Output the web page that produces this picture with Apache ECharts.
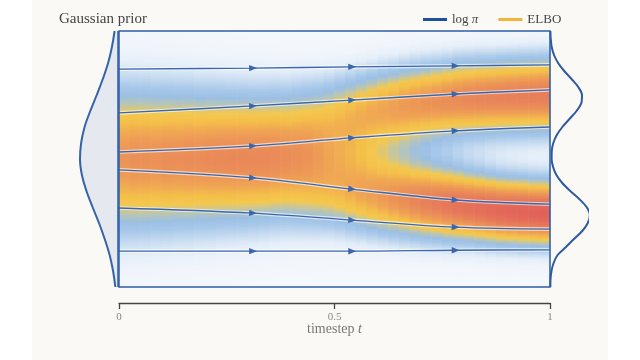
<!DOCTYPE html>
<html><head><meta charset="utf-8">
<script src="https://cdn.jsdelivr.net/npm/echarts@6/dist/echarts.min.js"></script>
<style>
html,body{margin:0;padding:0;}
body{background:linear-gradient(to right,#ffffff 0,#ffffff 32px,#faf9f6 32px,#faf9f6 608px,#ffffff 608px);}
#c{width:640px;height:360px;}
</style></head><body><div id="c"></div>
<script>
// ---- data ----
const xTicks = [0, 0.5, 1];
// heatmap columns (timestep centres) and the two density bands read at each column
const heatT = [0.0125,0.0375,0.0625,0.0875,0.1125,0.1375,0.1625,0.1875,0.2125,0.2375,0.2625,0.2875,0.3125,0.3375,0.3625,0.3875,0.4125,0.4375,0.4625,0.4875,0.5125,0.5375,0.5625,0.5875,0.6125,0.6375,0.6625,0.6875,0.7125,0.7375,0.7625,0.7875,0.8125,0.8375,0.8625,0.8875,0.9125,0.9375,0.9625,0.9875];
const upperMean = [0.05,0.08,0.11,0.14,0.18,0.22,0.25,0.29,0.34,0.41,0.47,0.53,0.59,0.67,0.76,0.83,0.92,1.0,1.09,1.18,1.26,1.33,1.41,1.49,1.56,1.61,1.67,1.72,1.77,1.81,1.85,1.89,1.91,1.93,1.94,1.96,1.97,1.98,1.99,2.0];
const lowerMean = [-0.05,-0.08,-0.11,-0.14,-0.17,-0.2,-0.23,-0.27,-0.31,-0.36,-0.42,-0.47,-0.53,-0.57,-0.62,-0.67,-0.72,-0.77,-0.83,-0.88,-0.93,-0.99,-1.04,-1.1,-1.15,-1.2,-1.24,-1.29,-1.33,-1.37,-1.41,-1.45,-1.49,-1.53,-1.57,-1.61,-1.63,-1.65,-1.67,-1.68];
const upperSpread = [1.68,1.66,1.65,1.63,1.61,1.59,1.57,1.54,1.52,1.48,1.45,1.42,1.38,1.34,1.29,1.24,1.2,1.15,1.1,1.06,1.03,1.01,0.99,0.97,0.96,0.95,0.94,0.93,0.92,0.91,0.9,0.9,0.89,0.89,0.88,0.88,0.88,0.88,0.88,0.88];
const lowerSpread = [1.68,1.66,1.65,1.63,1.61,1.59,1.57,1.54,1.52,1.48,1.45,1.42,1.38,1.34,1.29,1.24,1.2,1.15,1.1,1.05,1.02,1.0,0.97,0.95,0.93,0.91,0.9,0.88,0.87,0.85,0.84,0.82,0.8,0.79,0.78,0.77,0.76,0.76,0.75,0.75];
const upperPeak = [0.5,0.51,0.51,0.51,0.52,0.52,0.53,0.53,0.54,0.55,0.56,0.57,0.58,0.59,0.61,0.62,0.64,0.67,0.69,0.72,0.76,0.8,0.84,0.87,0.9,0.93,0.96,0.98,1.0,1.02,1.04,1.06,1.08,1.09,1.1,1.11,1.12,1.13,1.13,1.14];
const lowerPeak = [0.5,0.51,0.51,0.51,0.52,0.52,0.53,0.53,0.54,0.55,0.56,0.57,0.58,0.6,0.61,0.63,0.66,0.69,0.72,0.75,0.79,0.83,0.88,0.92,0.96,1.0,1.04,1.08,1.12,1.15,1.18,1.21,1.23,1.25,1.27,1.29,1.31,1.32,1.33,1.34];
// flow lines
const flowT = [0, 0.31, 0.54, 0.78, 1];
const flow1 = [2.81, 2.84, 2.88, 2.91, 2.94];
const flow2 = [1.44, 1.66, 1.84, 2.03, 2.16];
const flow3 = [0.22, 0.41, 0.66, 0.88, 1.0];
const flow4 = [-0.34, -0.59, -0.94, -1.28, -1.41];
const flow5 = [-1.53, -1.69, -1.91, -2.13, -2.19];
const flow6 = [-2.88, -2.88, -2.88, -2.85, -2.84];
// prior density (left) and target density (right)
const priorV = [4,3.5,3,2.5,2,1.5,1,0.5,0,-0.5,-1,-1.5,-2,-2.5,-3,-3.5,-4];
const priorDensity = [0.09,0.16,0.26,0.40,0.56,0.73,0.88,0.97,1.0,0.95,0.83,0.67,0.50,0.35,0.22,0.13,0.07];
const targetV = [4,3.75,3.5,3.25,3,2.75,2.5,2.25,2,1.75,1.5,1.25,1,0.75,0.5,0.25,0,-0.25,-0.5,-0.75,-1,-1.25,-1.5,-1.75,-2,-2.25,-2.5,-2.75,-3,-3.25,-3.5,-3.75,-4];
const targetDensity = [0.01,0.02,0.045,0.106,0.214,0.374,0.567,0.743,0.842,0.825,0.699,0.512,0.325,0.178,0.087,0.046,0.043,0.081,0.169,0.322,0.533,0.768,0.962,1.049,0.995,0.85,0.63,0.42,0.2,0.095,0.039,0.014,0.01];
const legendNames = ['log π', 'ELBO'];

// ---- build ----
const FONT = '"Liberation Serif", "DejaVu Serif", serif';
const nRows = 128;
const rowV = Array.from({length:nRows}, (_, j) => (-4 + (j + 0.5) * 8 / nRows).toFixed(4));
const heatData = [];
heatT.forEach((t, i) => {
  rowV.forEach((vs, j) => {
    const v = +vs;
    const a = upperPeak[i] * Math.exp(-Math.pow(v - upperMean[i], 2) / (2 * upperSpread[i] * upperSpread[i]));
    const b = lowerPeak[i] * Math.exp(-Math.pow(v - lowerMean[i], 2) / (2 * lowerSpread[i] * lowerSpread[i]));
    heatData.push([i, j, +(a + b).toFixed(4)]);
  });
});
const flows = [flow1, flow2, flow3, flow4, flow5, flow6];
const arrowData = [];
flows.forEach(f => {
  for (let k = 1; k <= 3; k++) arrowData.push([flowT[k], f[k], flowT[k-1], f[k-1], flowT[k+1], f[k+1]]);
});
const LINE_BLUE = '#3a66ad';
const series = [
  { type:'heatmap', xAxisIndex:1, yAxisIndex:1, data:heatData, emphasis:{disabled:true}, progressive:0, z:1 },
];
flows.forEach(f => {
  const d = flowT.map((t, k) => [t, f[k]]);
  series.push({ type:'line', xAxisIndex:0, yAxisIndex:0, data:d, smooth:0.35, showSymbol:false, silent:true, z:3,
    lineStyle:{color:'rgba(255,255,255,0.6)', width:3.6} });
  series.push({ type:'line', xAxisIndex:0, yAxisIndex:0, data:d, smooth:0.35, showSymbol:false, silent:true, z:4,
    lineStyle:{color:LINE_BLUE, width:1.4} });
});
series.push({
  type:'custom', xAxisIndex:0, yAxisIndex:0, data:arrowData, z:5, silent:true,
  renderItem:(params, api) => {
    const p = api.coord([api.value(0), api.value(1)]);
    const a = api.coord([api.value(2), api.value(3)]);
    const b = api.coord([api.value(4), api.value(5)]);
    const ang = Math.atan2(b[1]-a[1], b[0]-a[0]);
    const c = Math.cos(ang), s = Math.sin(ang);
    const L = 4.5, B = 3.5, W = 3.2;
    return { type:'polygon', shape:{points:[
      [p[0]+c*L, p[1]+s*L],
      [p[0]-c*B - s*W, p[1]-s*B + c*W],
      [p[0]-c*B + s*W, p[1]-s*B - c*W]
    ]}, style:{fill:LINE_BLUE} };
  }
});
// frame
series.push({
  type:'custom', xAxisIndex:0, yAxisIndex:0, data:[[0, -4, 1, 4]], z:6, silent:true,
  renderItem:(params, api) => {
    const p0 = api.coord([api.value(0), api.value(3)]);
    const p1 = api.coord([api.value(2), api.value(1)]);
    return { type:'rect', shape:{x:p0[0], y:p0[1], width:p1[0]-p0[0], height:p1[1]-p0[1]},
      style:{fill:'none', stroke:'#2e5da4', lineWidth:1.5} };
  }
});
// prior fill
const priorData = priorV.map((v, k) => [priorDensity[k], v]);
series.push({
  type:'custom', xAxisIndex:2, yAxisIndex:2, data:priorData, z:2, silent:true,
  renderItem:(params, api) => {
    if (params.dataIndex !== 0) return null;
    const pts = priorData.map(d => api.coord(d));
    const top = api.coord([0, priorV[0]]);
    const bot = api.coord([0, priorV[priorV.length-1]]);
    return { type:'polygon', shape:{points:[top].concat(pts, [bot])}, style:{fill:'#e5e8ee'} };
  }
});
series.push({ type:'line', xAxisIndex:2, yAxisIndex:2, data:priorData, smooth:0.4, showSymbol:false, silent:true, z:3,
  lineStyle:{color:'#3563a8', width:2} });
series.push({ type:'line', xAxisIndex:2, yAxisIndex:2, data:[[0, 4], [0, -4]], showSymbol:false, silent:true, z:3,
  lineStyle:{color:'#2e5da4', width:1.5} });
// target curve
series.push({ type:'line', xAxisIndex:3, yAxisIndex:3, data:targetV.map((v, k) => [targetDensity[k], v]), smooth:0.3,
  showSymbol:false, silent:true, z:3, clip:false, lineStyle:{color:'#2f5a9e', width:2} });
// legend entries
series.push({ name:legendNames[0], type:'line', data:[], itemStyle:{color:'#1f4f9b'}, lineStyle:{color:'#1f4f9b'} });
series.push({ name:legendNames[1], type:'line', data:[], itemStyle:{color:'#f4b43a'}, lineStyle:{color:'#f4b43a'} });

const option = {
  animation:false,
  backgroundColor:'transparent',
  textStyle:{fontFamily:FONT},
  title:{ text:'Gaussian prior', left:54, top:7,
    textStyle:{fontFamily:FONT, fontSize:15, fontWeight:'normal', color:'#444'} },
  legend:{ data:legendNames, left:418, top:8, itemWidth:24, itemHeight:3, itemGap:20, icon:'rect',
    formatter: n => n === 'log π' ? 'log {i|π}' : n,
    textStyle:{fontFamily:FONT, fontSize:13, color:'#444',
      rich:{i:{fontFamily:FONT, fontSize:13, fontStyle:'italic', color:'#444'}}} },
  grid:[
    {left:119, right:90, top:31, bottom:73},
    {left:80, width:38, top:31, bottom:73},
    {left:550, width:38, top:31, bottom:73}
  ],
  xAxis:[
    { type:'value', gridIndex:0, min:xTicks[0], max:xTicks[2], interval:xTicks[1], offset:16, position:'bottom',
      axisLine:{show:true, onZero:false, lineStyle:{color:'#444', width:1.3}},
      axisTick:{show:true, length:6, lineStyle:{color:'#444', width:1.3}},
      splitLine:{show:false},
      axisLabel:{color:'#888', fontSize:11, margin:9, fontFamily:FONT},
      name:'timestep {i|t}', nameLocation:'middle', nameGap:19, nameMoveOverlap:false,
      nameTextStyle:{color:'#777', fontSize:14, fontFamily:FONT,
        rich:{i:{color:'#777', fontSize:14, fontFamily:FONT, fontStyle:'italic'}}} },
    { type:'category', gridIndex:0, data:heatT.map(String), show:false },
    { type:'value', gridIndex:1, min:0, max:1, inverse:true, show:false },
    { type:'value', gridIndex:2, min:0, max:1, show:false }
  ],
  yAxis:[
    { type:'value', gridIndex:0, min:-4, max:4, show:false },
    { type:'category', gridIndex:0, data:rowV, show:false },
    { type:'value', gridIndex:1, min:-4, max:4, show:false },
    { type:'value', gridIndex:2, min:-4, max:4, show:false }
  ],
  visualMap:{ show:false, type:'continuous', min:0, max:1.4, dimension:2, seriesIndex:0,
    inRange:{color:['#f5f8fc','#f1f5fb','#e5eef9','#c6dbf0','#a9c9ea','#9bbfe4','#bcc6ae','#f4c84e','#f4bf4a','#f0a753','#ec9457','#e8845a','#e5755a','#e2675a','#dd5a57']} },
  series:series
};
const chart = echarts.init(document.getElementById('c'), null, {renderer:'canvas'});
chart.setOption(option);
</script></body></html>
